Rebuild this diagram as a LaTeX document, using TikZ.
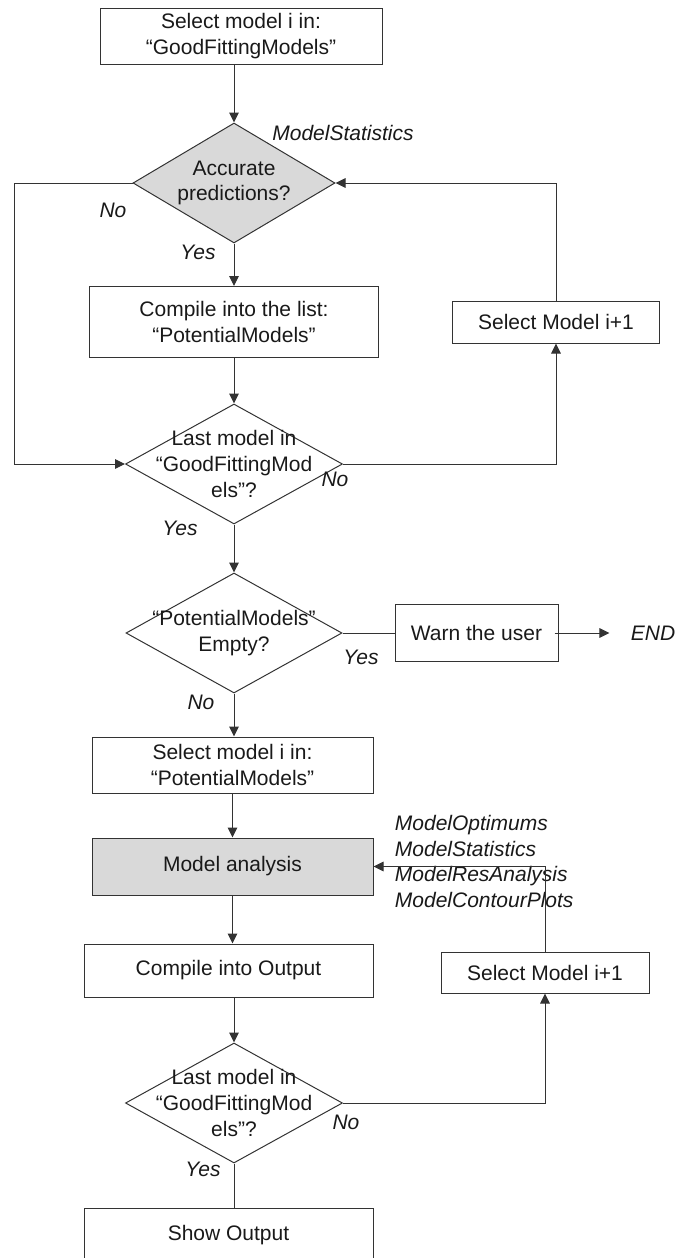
\documentclass[tikz,border=0pt]{standalone}
\usepackage{fontspec}
\setmainfont{Liberation Sans}
\usetikzlibrary{arrows.meta}
\usetikzlibrary{shapes.geometric,positioning}

\tikzset{
  box/.style={draw=black!80, line width=0.5pt, rectangle, align=center, minimum width=141pt, minimum height=28pt, inner sep=2pt},
  decision/.style={draw=black!80, line width=0.5pt, diamond, minimum width=108.5pt, minimum height=60pt, inner sep=0pt},
  dtxt/.style={align=center, inner sep=0pt},
  lbl/.style={font=\fontsize{10.5}{12.8}\selectfont\itshape, inner sep=0pt},
}

\begin{document}
\begin{tikzpicture}[x=1pt, y=1pt, on grid, >={Triangle[length=5pt,width=4.8pt]}, font=\fontsize{10.5}{12.8}\selectfont, text=black!90]
  \useasboundingbox (0,0) rectangle (337.5,-629);
  \clip (0,0) rectangle (337.5,-629);

  \node[decision, minimum width=101pt, fill=gray!30, label={[dtxt]center:Accurate\\predictions?}] (acc) at (117,-91.5) {};
  \node[box] (sel1) [above=73.5pt of acc, xshift=3.5pt] {Select model i in:\\“GoodFittingModels”};
  \node[box, minimum width=144.5pt, minimum height=35.5pt] (cmp1) [below=69.5pt of acc] {Compile into the list:\\“PotentialModels”};
  \node[box, minimum width=103.5pt, minimum height=21pt] (nxt1) [right=161pt of cmp1] {Select Model i+1};
  \node[decision, label={[dtxt]center:Last model in\\“GoodFittingMod\\els”?}] (last1) [below=71pt of cmp1] {};
  \node[decision, minimum width=108pt, label={[dtxt]center:“PotentialModels”\\Empty?}] (empty) [below=84.5pt of last1] {};
  \node[box, minimum width=81.5pt, minimum height=28.5pt] (warn) [right=121.25pt of empty] {Warn the user};
  \node[lbl] (end) [right=88.25pt of warn] {END};
  \node[box, minimum width=140.5pt] (sel2) [below=66pt of empty, xshift=-0.75pt] {Select model i in:\\“PotentialModels”};
  \node[box, minimum width=140.5pt, minimum height=28.5pt, fill=gray!30] (ana) [below=50.75pt of sel2] {Model analysis};
  \node[box, minimum width=144.5pt, minimum height=26.5pt] (cmp2) [below=52pt of ana, xshift=-2pt] {Compile into Output};
  \node[box, minimum width=104pt, minimum height=20.5pt] (nxt2) [right=158.25pt of cmp2, yshift=-1pt] {Select Model i+1};
  \node[decision, label={[dtxt]center:Last model in\\“GoodFittingMod\\els”?}] (last2) [below=66.25pt of cmp2, xshift=2.75pt] {};
  \node[box, minimum width=144.5pt, minimum height=27pt] (show) [below=66pt of last2, xshift=-2.75pt] {Show Output};

  \node[lbl] (stats) [above right=25pt and 54.5pt of acc] {ModelStatistics};
  \node[lbl] (no1) [below left=13.5pt and 60.5pt of acc] {No};
  \node[lbl] (yes1) [below left=34.5pt and 18pt of acc] {Yes};
  \node[lbl] (no2) [below right=7.5pt and 50.5pt of last1] {No};
  \node[lbl] (yes2) [below left=32pt and 27pt of last1] {Yes};
  \node[lbl] (yes3) [below right=12pt and 63.5pt of empty] {Yes};
  \node[lbl] (no3) [below left=34.5pt and 16.5pt of empty] {No};
  \node[lbl] (no4) [below right=9.5pt and 56pt of last2] {No};
  \node[lbl] (yes4) [below left=33pt and 15.5pt of last2] {Yes};
  \node[lbl, align=left, anchor=west] (outs) at ([xshift=10.5pt, yshift=2.5pt]ana.east) {ModelOptimums\\ModelStatistics\\ModelResAnalysis\\ModelContourPlots};

  \begin{scope}[draw=black!80, line width=0.5pt]
  \draw[->] (sel1.south -| acc.north) -- (acc.north);
  \draw[->] (acc.south) -- (cmp1.north);
  \draw[->] (acc.west) -- ++(-59pt,0) |- (last1.west);
  \draw[->] (cmp1.south) -- (last1.north);
  \draw[->] (last1.east) -| (nxt1.south);
  \draw[->] (nxt1.north) |- (acc.east);
  \draw[->] (last1.south) -- (empty.north);
  \draw (empty.east) -- (warn.west);
  \draw[->, shorten <=-2pt, shorten >=10.5pt] (warn.east) -- (end.west);
  \draw[->] (empty.south) -- (empty.south |- sel2.north);
  \draw[->] (sel2.south) -- (ana.north);
  \draw[->] (ana.south) -- (ana.south |- cmp2.north);
  \draw[->] (cmp2.south -| last2.north) -- (last2.north);
  \draw[->] (last2.east) -| (nxt2.south);
  \draw[->] (nxt2.north) |- (ana.east);
  \draw (last2.south) -- (last2.south |- show.north);
  \end{scope}
\end{tikzpicture}
\end{document}
